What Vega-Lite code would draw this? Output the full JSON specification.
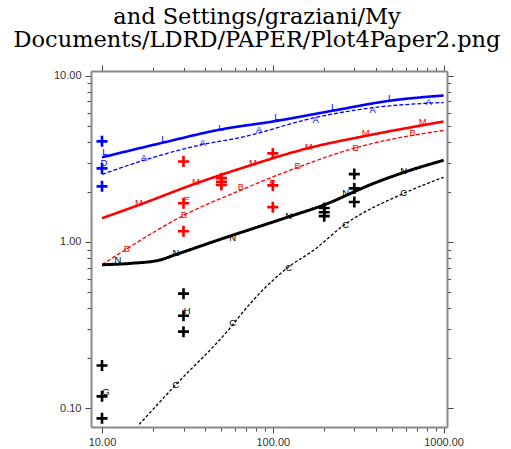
{
  "$schema": "https://vega.github.io/schema/vega-lite/v6.json",
  "width": 356,
  "height": 356,
  "autosize": {"type": "none"},
  "padding": {"left": 91, "top": 71, "right": 64, "bottom": 22},
  "background": "white",
  "view": {"stroke": null},
  "title": {
    "text": ["and Settings/graziani/My", "Documents/LDRD/PAPER/Plot4Paper2.png"],
    "font": "DejaVu Serif",
    "fontSize": 22.5,
    "fontWeight": "normal",
    "color": "#000000",
    "lineHeight": 23,
    "anchor": "middle",
    "dx": -12,
    "offset": 13
  },
  "datasets": {
    "curves": [
      {"c": "L", "x": 10, "y": 3.23}, {"c": "L", "x": 23.05, "y": 3.97}, {"c": "L", "x": 49.6, "y": 4.75}, {"c": "L", "x": 101, "y": 5.31}, {"c": "L", "x": 227, "y": 6.17}, {"c": "L", "x": 490, "y": 7.08}, {"c": "L", "x": 1000, "y": 7.6},
      {"c": "A", "x": 10, "y": 2.55}, {"c": "A", "x": 17.6, "y": 3.1}, {"c": "A", "x": 38.9, "y": 3.86}, {"c": "A", "x": 65, "y": 4.25}, {"c": "A", "x": 178, "y": 5.61}, {"c": "A", "x": 389, "y": 6.43}, {"c": "A", "x": 1000, "y": 6.9},
      {"c": "M", "x": 10, "y": 1.39}, {"c": "M", "x": 16.45, "y": 1.67}, {"c": "M", "x": 35.5, "y": 2.25}, {"c": "M", "x": 65, "y": 2.77}, {"c": "M", "x": 160, "y": 3.66}, {"c": "M", "x": 360, "y": 4.37}, {"c": "M", "x": 1000, "y": 5.3},
      {"c": "B", "x": 10, "y": 0.73}, {"c": "B", "x": 14.2, "y": 0.92}, {"c": "B", "x": 30.2, "y": 1.45}, {"c": "B", "x": 65, "y": 2.05}, {"c": "B", "x": 140, "y": 2.81}, {"c": "B", "x": 298, "y": 3.66}, {"c": "B", "x": 1000, "y": 4.69},
      {"c": "N", "x": 10, "y": 0.73}, {"c": "N", "x": 15, "y": 0.745}, {"c": "N", "x": 21.3, "y": 0.775}, {"c": "N", "x": 27, "y": 0.84}, {"c": "N", "x": 49.6, "y": 1.04}, {"c": "N", "x": 122, "y": 1.41}, {"c": "N", "x": 199, "y": 1.67}, {"c": "N", "x": 389, "y": 2.25}, {"c": "N", "x": 584, "y": 2.62}, {"c": "N", "x": 1000, "y": 3.1},
      {"c": "C", "x": 16.5, "y": 0.08}, {"c": "C", "x": 26.4, "y": 0.135}, {"c": "C", "x": 58.3, "y": 0.318}, {"c": "C", "x": 65, "y": 0.366}, {"c": "C", "x": 122, "y": 0.7}, {"c": "C", "x": 174, "y": 0.895}, {"c": "C", "x": 260, "y": 1.26}, {"c": "C", "x": 584, "y": 1.96}, {"c": "C", "x": 1000, "y": 2.45}
    ],
    "pts": [
      {"g": "blue", "x": 10, "y": 4.03}, {"g": "blue", "x": 10, "y": 2.77}, {"g": "blue", "x": 10, "y": 2.16},
      {"g": "red", "x": 30, "y": 3.05}, {"g": "red", "x": 30, "y": 1.71}, {"g": "red", "x": 30, "y": 1.16},
      {"g": "red", "x": 50, "y": 2.42}, {"g": "red", "x": 50, "y": 2.3}, {"g": "red", "x": 50, "y": 2.2},
      {"g": "red", "x": 100, "y": 3.41}, {"g": "red", "x": 100, "y": 2.19}, {"g": "red", "x": 100, "y": 1.62},
      {"g": "black", "x": 10, "y": 0.181}, {"g": "black", "x": 10, "y": 0.118}, {"g": "black", "x": 10, "y": 0.087},
      {"g": "black", "x": 30, "y": 0.489}, {"g": "black", "x": 30, "y": 0.36}, {"g": "black", "x": 30, "y": 0.289},
      {"g": "black", "x": 200, "y": 1.6}, {"g": "black", "x": 200, "y": 1.51}, {"g": "black", "x": 200, "y": 1.43},
      {"g": "black", "x": 300, "y": 2.56}, {"g": "black", "x": 300, "y": 2.1}, {"g": "black", "x": 300, "y": 1.74}
    ],
    "lbl": [
      {"t": "L", "g": "blue", "x": 10.4, "y": 3.46}, {"t": "L", "g": "blue", "x": 23.05, "y": 4.14}, {"t": "L", "g": "blue", "x": 49.6, "y": 4.88}, {"t": "L", "g": "blue", "x": 105.5, "y": 5.68}, {"t": "L", "g": "blue", "x": 227, "y": 6.52}, {"t": "L", "g": "blue", "x": 489, "y": 7.38},
      {"t": "A", "g": "blue", "x": 17.6, "y": 3.18}, {"t": "A", "g": "blue", "x": 38.9, "y": 3.92}, {"t": "A", "g": "blue", "x": 82.8, "y": 4.69}, {"t": "A", "g": "blue", "x": 178.4, "y": 5.45}, {"t": "A", "g": "blue", "x": 384.4, "y": 6.26}, {"t": "A", "g": "blue", "x": 817, "y": 6.99},
      {"t": "D", "g": "blue", "x": 10.27, "y": 2.97},
      {"t": "M", "g": "red", "x": 16.45, "y": 1.71}, {"t": "M", "g": "red", "x": 35.5, "y": 2.29}, {"t": "M", "g": "red", "x": 76.4, "y": 2.97}, {"t": "M", "g": "red", "x": 162.4, "y": 3.71}, {"t": "M", "g": "red", "x": 349.9, "y": 4.5}, {"t": "M", "g": "red", "x": 754, "y": 5.3},
      {"t": "B", "g": "red", "x": 14.0, "y": 0.908}, {"t": "B", "g": "red", "x": 30.2, "y": 1.45}, {"t": "B", "g": "red", "x": 65.0, "y": 2.13}, {"t": "B", "g": "red", "x": 140, "y": 2.85}, {"t": "B", "g": "red", "x": 305.8, "y": 3.66}, {"t": "B", "g": "red", "x": 658.7, "y": 4.5},
      {"t": "E", "g": "red", "x": 31.4, "y": 1.78}, {"t": "E", "g": "red", "x": 99.6, "y": 2.25},
      {"t": "N", "g": "black", "x": 12.4, "y": 0.78}, {"t": "N", "g": "black", "x": 27.1, "y": 0.859}, {"t": "N", "g": "black", "x": 58.3, "y": 1.057}, {"t": "N", "g": "black", "x": 124, "y": 1.43}, {"t": "N", "g": "black", "x": 267.3, "y": 1.96}, {"t": "N", "g": "black", "x": 583, "y": 2.66},
      {"t": "C", "g": "black", "x": 27.1, "y": 0.139}, {"t": "C", "g": "black", "x": 58.3, "y": 0.327}, {"t": "C", "g": "black", "x": 124, "y": 0.699}, {"t": "C", "g": "black", "x": 267.3, "y": 1.265}, {"t": "C", "g": "black", "x": 583, "y": 1.96},
      {"t": "G", "g": "black", "x": 10.55, "y": 0.125}, {"t": "H", "g": "black", "x": 31.5, "y": 0.383}
    ]
  },
  "resolve": {"scale": {"x": "independent", "y": "independent"}, "axis": {"x": "independent", "y": "independent"}},
  "layer": [
    {
      "layer": [
        {
          "data": {"name": "curves"},
          "mark": {"type": "line", "clip": true, "strokeCap": "butt", "interpolate": "monotone"},
          "encoding": {
            "x": {"field": "x", "type": "quantitative"},
            "y": {"field": "y", "type": "quantitative"},
            "color": {"field": "c", "type": "nominal", "legend": null, "scale": {"type": "ordinal", "domain": ["L", "A", "M", "B", "N", "C", "blue", "red", "black"], "range": ["#0000ff", "#0000ff", "#ff0000", "#ff0000", "#000000", "#000000", "#0000ff", "#ff0000", "#000000"]}},
            "strokeDash": {"field": "c", "type": "nominal", "legend": null, "scale": {"type": "ordinal", "domain": ["L", "A", "M", "B", "N", "C"], "range": [[1, 0], [4, 2], [1, 0], [4, 2], [1, 0], [3, 2]]}},
            "strokeWidth": {"field": "c", "type": "nominal", "legend": null, "scale": {"type": "ordinal", "domain": ["L", "A", "M", "B", "N", "C"], "range": [2.6, 1.3, 2.6, 1.3, 3, 1.3]}}
          }
        },
        {
          "data": {"name": "lbl"},
          "mark": {"type": "text", "font": "Liberation Sans", "fontSize": 9.5, "align": "center", "baseline": "middle", "clip": true},
          "encoding": {
            "x": {"field": "x", "type": "quantitative"},
            "y": {"field": "y", "type": "quantitative"},
            "text": {"field": "t"},
            "color": {"field": "g", "type": "nominal", "legend": null}
          }
        },
        {
          "data": {"name": "pts"},
          "mark": {"type": "point", "shape": "M-1,0L1,0M0,-1L0,1", "filled": false, "strokeWidth": 2.6, "size": 121, "opacity": 1},
          "encoding": {
            "x": {"field": "x", "type": "quantitative", "scale": {"type": "log", "domain": [8.62, 1047], "nice": false, "zero": false},
              "axis": {"orient": "bottom", "title": null, "values": [10, 20, 30, 40, 50, 60, 70, 80, 90, 100, 200, 300, 400, 500, 600, 700, 800, 900, 1000],
                "labelExpr": "(datum.value == 10 || datum.value == 100 || datum.value == 1000) ? format(datum.value, '.2f') : ''",
                "tickSize": {"condition": {"test": "datum.value == 10 || datum.value == 100 || datum.value == 1000", "value": 6}, "value": 4},
                "labelOverlap": false, "labelFlush": false, "labelBound": false, "grid": false,
                "labelFont": "Liberation Sans", "labelFontSize": 11, "labelColor": "#333333", "labelPadding": 3,
                "domainColor": "#888888", "domainWidth": 2, "tickColor": "#444444", "tickWidth": 1}},
            "y": {"field": "y", "type": "quantitative", "scale": {"type": "log", "domain": [0.0772, 10.67], "nice": false, "zero": false},
              "axis": {"orient": "left", "title": null, "values": [0.1, 0.2, 0.3, 0.4, 0.5, 0.6, 0.7, 0.8, 0.9, 1, 2, 3, 4, 5, 6, 7, 8, 9, 10],
                "labelExpr": "(datum.value == 0.1 || datum.value == 1 || datum.value == 10) ? format(datum.value, '.2f') : ''",
                "tickSize": {"condition": {"test": "datum.value == 0.1 || datum.value == 1 || datum.value == 10", "value": 6}, "value": 4},
                "labelOverlap": false, "labelFlush": false, "labelBound": false, "grid": false,
                "labelFont": "Liberation Sans", "labelFontSize": 11, "labelColor": "#333333", "labelPadding": 4,
                "domainColor": "#888888", "domainWidth": 2, "tickColor": "#444444", "tickWidth": 1}},
            "color": {"field": "g", "type": "nominal", "legend": null}
          }
        }
      ]
    },
    {
      "data": {"name": "pts"},
      "mark": {"type": "point", "opacity": 0},
      "encoding": {
        "x": {"field": "x", "type": "quantitative", "scale": {"type": "log", "domain": [8.62, 1047], "nice": false, "zero": false},
          "axis": {"orient": "top", "title": null, "labels": false, "grid": false, "values": [10, 20, 30, 40, 50, 60, 70, 80, 90, 100, 200, 300, 400, 500, 600, 700, 800, 900, 1000],
            "tickSize": {"condition": {"test": "datum.value == 10 || datum.value == 100 || datum.value == 1000", "value": 6}, "value": 3.5},
            "domainColor": "#888888", "domainWidth": 2, "tickColor": "#444444", "tickWidth": 1}},
        "y": {"field": "y", "type": "quantitative", "scale": {"type": "log", "domain": [0.0772, 10.67], "nice": false, "zero": false},
          "axis": {"orient": "right", "title": null, "labels": false, "grid": false, "values": [0.1, 0.2, 0.3, 0.4, 0.5, 0.6, 0.7, 0.8, 0.9, 1, 2, 3, 4, 5, 6, 7, 8, 9, 10],
            "tickSize": {"condition": {"test": "datum.value == 0.1 || datum.value == 1 || datum.value == 10", "value": 6}, "value": 3.5},
            "domainColor": "#888888", "domainWidth": 2, "tickColor": "#444444", "tickWidth": 1}}
      }
    }
  ]
}
